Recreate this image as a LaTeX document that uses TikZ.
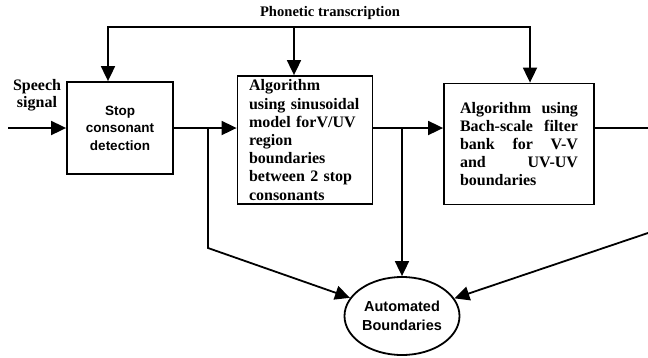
\documentclass[tikz,border=0pt]{standalone}
\usepackage{fontspec}
\setmainfont{Liberation Serif}
\setsansfont{Liberation Sans}
\usetikzlibrary{arrows.meta,shapes.geometric}

\begin{document}
\begin{tikzpicture}[x=1pt,y=-1pt,line width=1.8pt,
	arr/.style={-{Triangle[length=15pt,width=14pt]}},
	block/.style={draw, rectangle, inner sep=2pt, align=left,
		execute at begin node={\hyphenpenalty=10000\relax},
		font=\bfseries\fontsize{16}{18.2}\selectfont},
	sansblock/.style={draw, rectangle, inner sep=2pt, align=center,
		font=\sffamily\bfseries\fontsize{13.5}{17.5}\selectfont},
	note/.style={inner sep=0pt, font=\bfseries\fontsize{14.6}{17}\selectfont}]

	\useasboundingbox (0,0) rectangle (648,357);

	% points on the signal line
	\coordinate (in)  at (8,128);
	\coordinate (b1)  at (208,128);
	\coordinate (k1)  at (208,248);
	\coordinate (b2)  at (402,128);
	\coordinate (out) at (648,128);
	\coordinate (k3)  at (648,233);

	% points on the transcription line
	\coordinate (t1) at (108,27);
	\coordinate (t2) at (294,27);
	\coordinate (t3) at (530,27);

	% blocks
	\node[sansblock, minimum width=106pt, minimum height=92pt] (stop)
		at (120,128) {Stop\\consonant\\detection};
	\node[block, text width=112pt,
		minimum width=135pt, minimum height=128pt] (algoA) at (305,140)
		{Algorithm\\using sinusoidal\\model forV/UV\\region\\boundaries\\between 2 stop\\consonants};
	\node[block, text width=118pt,
		minimum width=150pt, minimum height=121pt] (algoB) at (519,144)
		{Algorithm\hfill using\\Bach-scale\hfill filter\\bank\hfill for\hfill V-V\\and\hfill UV-UV\\boundaries};

	% result
	\node[ellipse, draw, inner sep=0pt, align=center,
		minimum width=115pt, minimum height=78pt,
		font=\sffamily\bfseries\fontsize{14.5}{19}\selectfont] (auto)
		at (402,316) {Automated\\Boundaries};

	% labels
	\node[note] (phon) at (330,13) {Phonetic transcription};
	\node[note, align=center, font=\bfseries\fontsize{16}{17}\selectfont] (speech)
		at (37,95) {Speech\\signal};

	% signal line
	\draw[arr] (in) -- (in -| stop.west);
	\draw[arr] (stop.east) -- (stop.east -| algoA.west);
	\draw[arr] (algoA.east |- b2) -- (algoB.west |- b2);
	\draw (algoB.east |- out) -- (out);

	% transcription line
	\draw[arr] (t2) -- (t1) -- (t1 |- stop.north);
	\draw[arr] (t2) -- (t3) -- (t3 |- algoB.north);
	\draw[arr] (t2) -- (t2 |- algoA.north);

	% branches to the result
	\draw[arr] (b1) -- (k1) -- (auto);
	\draw[arr] (b2) -- (auto);
	\draw[arr] (k3) -- (auto);

\end{tikzpicture}
\end{document}
